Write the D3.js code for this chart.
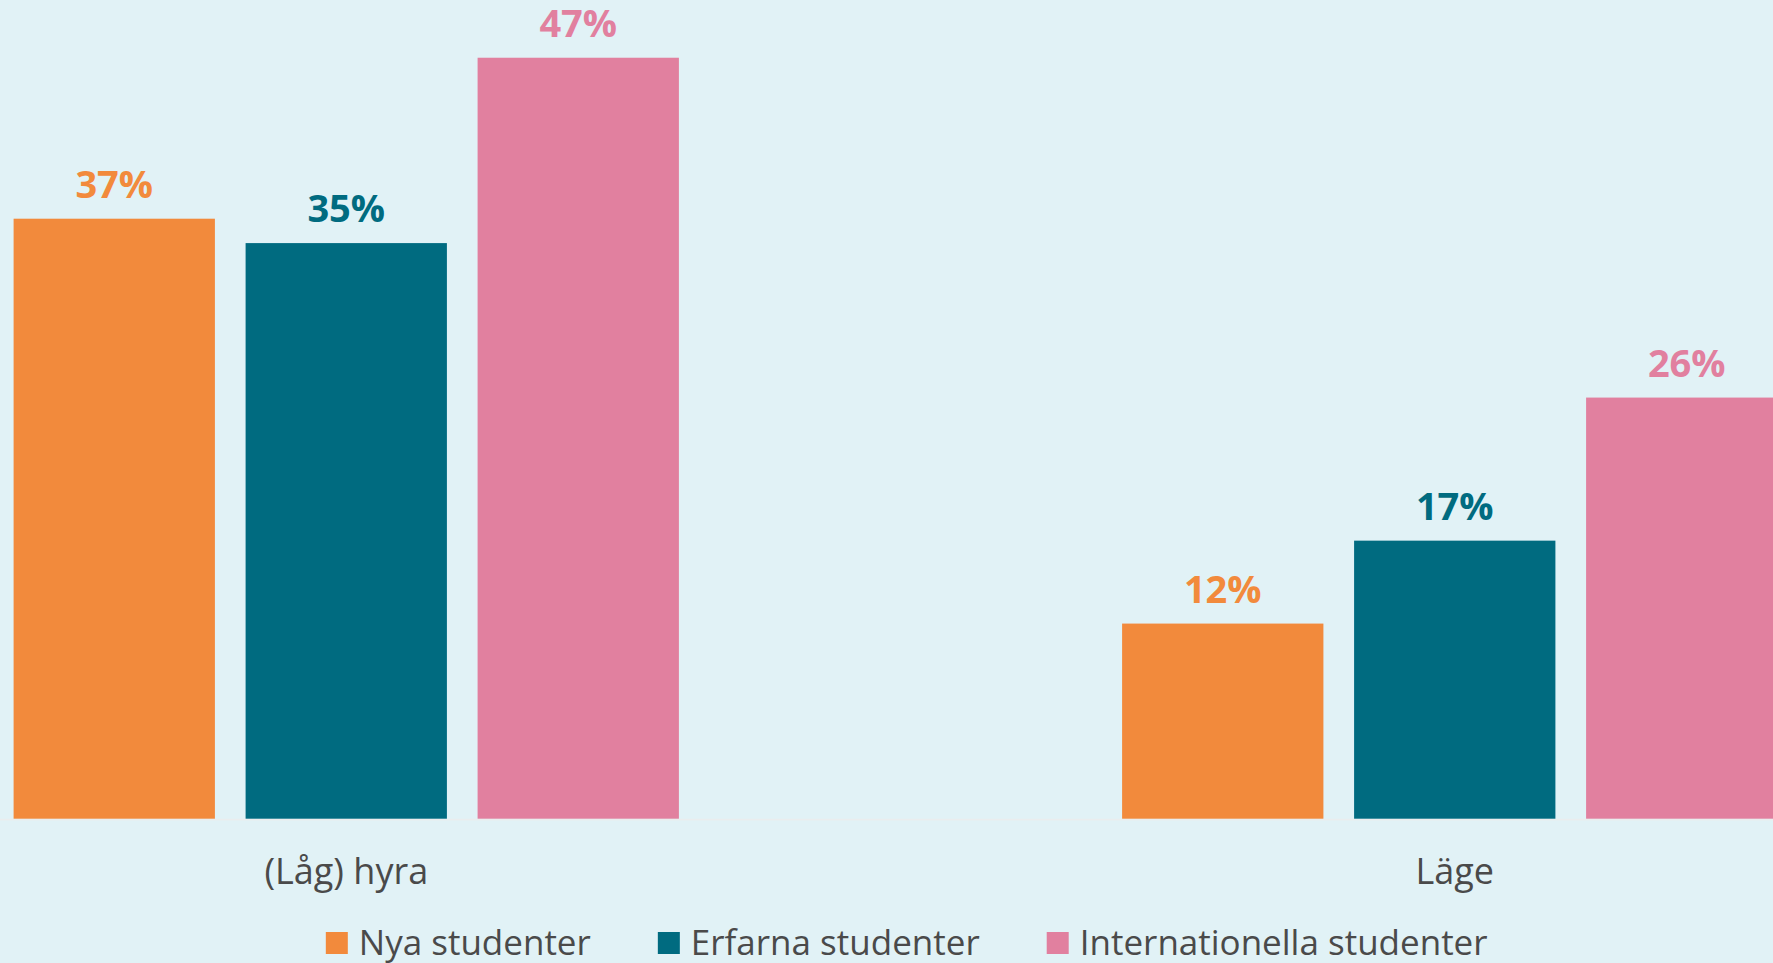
<!DOCTYPE html>
<html>
<head>
<meta charset="utf-8">
<script src="https://cdn.jsdelivr.net/npm/d3@7"></script>
<style>
  html, body { margin: 0; padding: 0; background: #E1F2F6; overflow: hidden; }
  svg { display: block; }
  text { font-family: "Open Sans", "Noto Sans", sans-serif; }
</style>
</head>
<body>
<svg id="chart" width="1773" height="963"></svg>
<script>
const categories = ["(Låg) hyra", "Läge"];
const seriesNames = ["Nya studenter", "Erfarna studenter", "Internationella studenter"];
const nyaValues = [36.9, 12.0];
const erfarnaValues = [35.4, 17.1];
const internationellaValues = [46.8, 25.9];
const seriesColors = ["#F28A3C", "#006B80", "#E1809F"];

const seriesValues = [nyaValues, erfarnaValues, internationellaValues];
const W = 1773, H = 963;
const svg = d3.select("#chart");
svg.append("rect").attr("width", W).attr("height", H).attr("fill", "#E1F2F6");

const baseY = 818.7;
const y = d3.scaleLinear().domain([0, 50]).range([baseY, baseY - 50 * 16.26]);
const x0 = d3.scaleBand().domain(categories).range([-208, 2009]).padding(0);
const groupW = 665.3;
const x1 = d3.scaleBand().domain(seriesNames)
  .range([x0.bandwidth() / 2 - groupW / 2, x0.bandwidth() / 2 + groupW / 2])
  .paddingInner(0.1323).paddingOuter(0);

const data = [];
categories.forEach((c, ci) => {
  seriesNames.forEach((s, si) => {
    data.push({ cat: c, series: s, value: seriesValues[si][ci], color: seriesColors[si] });
  });
});

// baseline
svg.append("line")
  .attr("x1", 0).attr("x2", W)
  .attr("y1", baseY + 0.9).attr("y2", baseY + 0.9)
  .attr("stroke", "#EAEDEE").attr("stroke-width", 1.8);

const g = svg.append("g");
g.selectAll("rect.bar").data(data).join("rect")
  .attr("class", "bar")
  .attr("x", d => x0(d.cat) + x1(d.series))
  .attr("y", d => y(d.value))
  .attr("width", x1.bandwidth())
  .attr("height", d => y(0) - y(d.value))
  .attr("fill", d => d.color);

g.selectAll("text.val").data(data).join("text")
  .attr("class", "val")
  .attr("x", d => x0(d.cat) + x1(d.series) + x1.bandwidth() / 2)
  .attr("y", d => y(d.value) - 21)
  .attr("text-anchor", "middle")
  .attr("font-size", 38)
  .attr("font-weight", 700)
  .attr("fill", d => d.color)
  .text(d => Math.round(d.value) + "%");

// category axis labels
const xAxis = d3.axisBottom(x0).tickSize(0).tickPadding(0);
const ax = svg.append("g").attr("transform", `translate(0,${baseY})`).call(xAxis);
ax.select(".domain").remove();
ax.selectAll("text")
  .attr("dy", null)
  .attr("y", 65)
  .attr("font-size", 36)
  .attr("font-family", "'Open Sans', 'Noto Sans', sans-serif")
  .attr("fill", "#4A4A4A");

// legend
const legend = svg.append("g");
const items = legend.selectAll("g").data(seriesNames).join("g");
items.append("rect")
  .attr("width", 22).attr("height", 22)
  .attr("y", 932)
  .attr("fill", (d, i) => seriesColors[i]);
items.append("text")
  .attr("x", 33).attr("y", 955)
  .attr("font-size", 35)
  .attr("fill", "#4A4A4A")
  .text(d => d);
let xpos = 0;
const positions = [];
items.each(function () {
  const tw = d3.select(this).select("text").node().getComputedTextLength();
  positions.push(xpos);
  xpos += 33 + tw + 67;
});
const total = xpos - 67;
const startX = 906.7 - total / 2;
items.attr("transform", (d, i) => `translate(${startX + positions[i]},0)`);
</script>
</body>
</html>
